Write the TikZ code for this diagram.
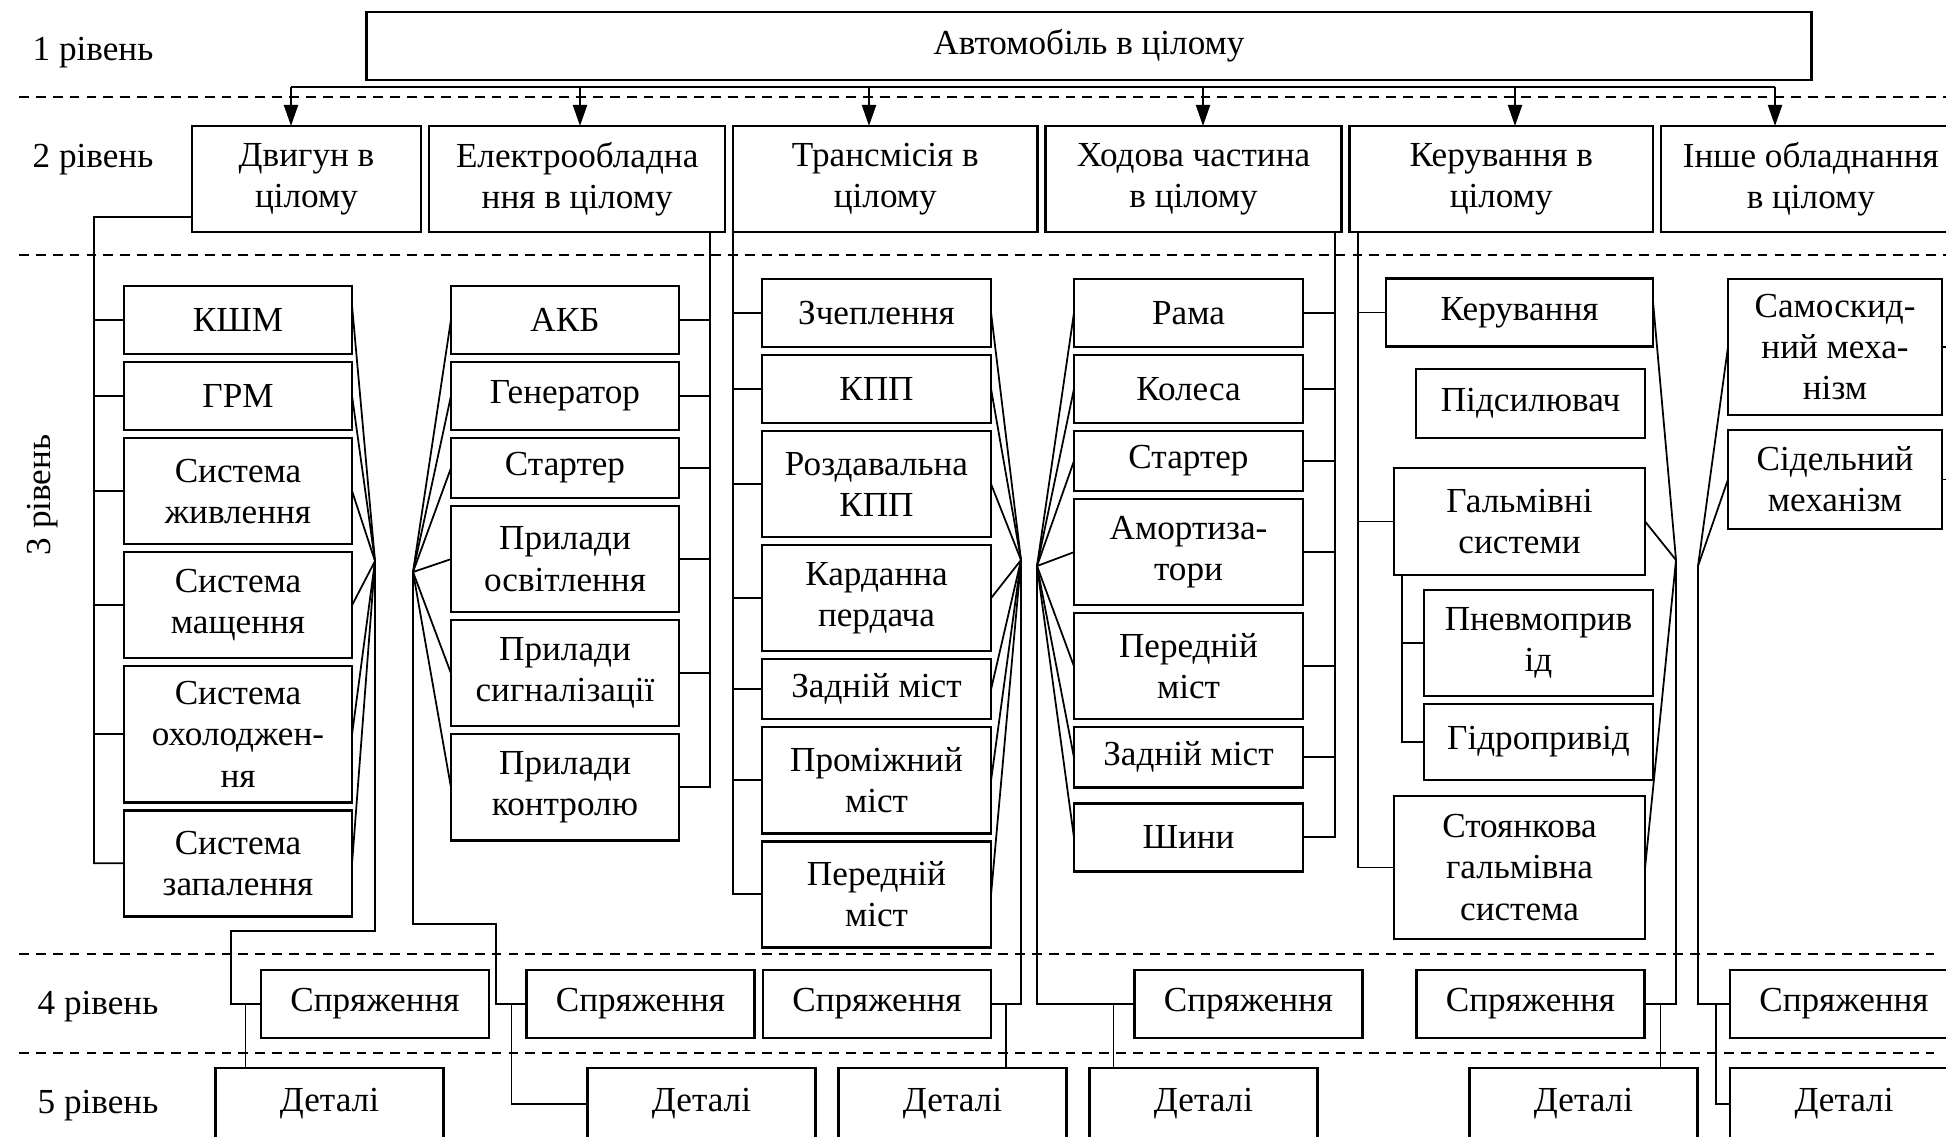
\documentclass[tikz,border=0pt]{standalone}
\usepackage{fontspec}
\setmainfont{Liberation Serif}
\usetikzlibrary{positioning,arrows.meta,calc}

\tikzset{
  blok/.style={draw, line width=0.7pt, align=center, inner sep=0pt, outer sep=0pt},
  k1/.style={blok, minimum width=2.28cm},
  k3/.style={blok, minimum width=2.29cm},
  r0/.style={minimum height=0.6cm},
  r1/.style={minimum height=0.68cm},
  r2/.style={minimum height=1.06cm},
  r3/.style={minimum height=1.36cm},
  zv/.style={line width=0.5pt},
  strilka/.style={line width=0.6pt, -{Triangle[length=6pt,width=4pt]}},
  rozdil/.style={line width=0.5pt, dash pattern=on 2.8pt off 2pt},
  riven/.style={inner sep=0pt}
}

\begin{document}
\begin{tikzpicture}[x=0.01cm, y=-0.01cm, node distance=0.08cm,
  font=\fontsize{10}{11.7}\selectfont]
\useasboundingbox (0,0) rectangle (1946,1136);

% рівні
\node[riven] (l1) at (93,53) {1 рівень};
\node[riven] (l2) at (93,160) {2 рівень};
\node[riven, rotate=90] (l3) at (43,495) {3 рівень};
\node[riven] (l4) at (98,1007) {4 рівень};
\node[riven] (l5) at (98,1106) {5 рівень};
\foreach \y/\xe in {97/1946,255/1946,954/1934,1053/1934}
  \draw[rozdil] (19,\y) -- (\xe,\y);

% 1 і 2 рівні
\node[blok, minimum width=14.44cm, minimum height=0.68cm] (avto) at (1089,46) {Автомобіль в цілому};
\node[blok, r2, minimum width=2.29cm] (dvyg) at (306.5,179) {Двигун в\\цілому};
\node[blok, r2, minimum width=2.96cm, right=of dvyg] (elek) {Електрообладна\\ння в цілому};
\node[blok, r2, minimum width=3.04cm, right=of elek] (trans) {Трансмісія в\\цілому};
\node[blok, r2, minimum width=2.96cm, right=of trans] (khod) {Ходова частина\\в цілому};
\node[blok, r2, minimum width=3.03cm, right=of khod] (keruv) {Керування в\\цілому};
\node[blok, r2, minimum width=3.00cm, right=of keruv] (inshe) {Інше обладнання\\в цілому};

\coordinate (shL) at (291,87);
\coordinate (shR) at (1775,87);
\draw[line width=0.6pt] (shL) -- (shR);
\foreach \n/\x in {dvyg/291,elek/580,trans/869,khod/1203,keruv/1515,inshe/1775}
  \draw[strilka] (\x,87) -- (\x,87 |- \n.north);

% двигун
\node[k1, r1] (kshm) at (238,320) {КШМ};
\node[k1, r1, below=of kshm] (grm) {ГРМ};
\node[k1, r2, below=of grm] (zhyvl) {Система\\живлення};
\node[k1, r2, below=of zhyvl] (mashch) {Система\\мащення};
\node[k1, r3, below=of mashch] (okhol) {Система\\охолоджен-\\ня};
\node[k1, r2, below=of okhol] (zapal) {Система\\запалення};

% електрообладнання
\node[k1, r1] (akb) at (565,320) {АКБ};
\node[k1, r1, below=of akb] (gener) {Генератор};
\node[k1, r0, below=of gener] (start) {Стартер};
\node[k1, r2, below=of start] (osvit) {Прилади\\освітлення};
\node[k1, r2, below=of osvit] (syhn) {Прилади\\сигналізації};
\node[k1, r2, below=of syhn] (kontr) {Прилади\\контролю};

% трансмісія
\node[k3, r1] (zchep) at (876.5,313) {Зчеплення};
\node[k3, r1, below=of zchep] (kpp) {КПП};
\node[k3, r2, below=of kpp] (rozd) {Роздавальна\\КПП};
\node[k3, r2, below=of rozd] (kard) {Карданна\\пердача};
\node[k3, r0, below=of kard] (zadn) {Задній міст};
\node[k3, r2, below=of zadn] (promi) {Проміжний\\міст};
\node[k3, r2, below=of promi] (pered) {Передній\\міст};

% ходова частина
\node[k3, r1] (rama) at (1188.5,313) {Рама};
\node[k3, r1, below=of rama] (koles) {Колеса};
\node[k3, r0, below=of koles] (start4) {Стартер};
\node[k3, r2, below=of start4] (amort) {Амортиза-\\тори};
\node[k3, r2, below=of amort] (pered4) {Передній\\міст};
\node[k3, r0, below=of pered4] (zadn4) {Задній міст};
\node[k3, r1, below=0.16cm of zadn4] (shyny) {Шини};

% керування
\node[blok, r1, minimum width=2.67cm] (kerb) at (1519.5,312.5) {Керування};
\node[blok, minimum height=0.69cm, minimum width=2.29cm] (pids) at (1530.5,403.5) {Підсилювач};
\node[blok, minimum height=1.07cm, minimum width=2.51cm] (galm) at (1519.5,521.5) {Гальмівні\\системи};
\node[k3, r2] (pnev) at (1538.5,643) {Пневмоприв\\ід};
\node[k3, minimum height=0.76cm] (gidr) at (1538.5,742) {Гідропривід};
\node[blok, minimum height=1.43cm, minimum width=2.51cm] (stoi) at (1519.5,867.5) {Стоянкова\\гальмівна\\система};

% інше обладнання
\node[blok, r3, minimum width=2.14cm] (samo) at (1835,347) {Самоскид-\\ний меха-\\нізм};
\node[blok, minimum height=0.99cm, minimum width=2.14cm] (sidl) at (1835,479.5) {Сідельний\\механізм};

% 4 і 5 рівні
\foreach \n/\x in {sp1/375,sp2/640.5,sp3/877,sp4/1248.5,sp5/1530.5,sp6/1844}
  \node[k1, r1] (\n) at (\x,1004) {Спряження};
\foreach \n/\x in {det1/329.5,det2/701.5,det3/952.5,det4/1203.5,det5/1583.5,det6/1844}
  \node[k1, minimum height=0.72cm] (\n) at (\x,1104) {Деталі};

% зв'язки: двигун
\coordinate (b1) at (94,217);
\draw[zv] ($(dvyg.south west)+(0,-15)$) -- (b1) |- (zapal.west);
\foreach \n in {kshm,grm,zhyvl,mashch,okhol}
  \draw[zv] (b1 |- \n.west) -- (\n.west);
\coordinate (f1) at (375,561);
\draw[zv] ($(kshm.east)+(0,-14)$) -- (f1);
\foreach \n in {grm,zhyvl,mashch,okhol,zapal}
  \draw[zv] (\n.east) -- (f1);
\draw[zv] (f1) |- ++(-144,370) |- (sp1.west);
\draw[zv] ($(sp1.west)+(-15.5,0)$) coordinate (t1) -- (t1 |- det1.north);

% зв'язки: електрообладнання
\coordinate (b2) at ($(elek.south east)+(-15,0)$);
\draw[zv] (b2) |- (kontr.east);
\foreach \n in {akb,gener,start,osvit,syhn}
  \draw[zv] (b2 |- \n.east) -- (\n.east);
\coordinate (f2) at (413,572);
\foreach \n in {akb,gener,start,osvit,syhn,kontr}
  \draw[zv] (\n.west) -- (f2);
\draw[zv] (f2) |- ++(83,352) |- (sp2.west);
\draw[zv] ($(sp2.west)+(-15,0)$) |- (det2.west);

% зв'язки: трансмісія
\draw[zv] (trans.south west) |- (pered.west);
\foreach \n in {zchep,kpp,rozd,kard,zadn,promi}
  \draw[zv] (trans.south west |- \n.west) -- (\n.west);
\coordinate (f3) at (1021,560);
\foreach \n in {zchep,kpp,rozd,kard,zadn,promi,pered}
  \draw[zv] (\n.east) -- (f3);
\draw[zv] (f3) |- (sp3.east);
\draw[zv] ($(sp3.east)+(15,0)$) coordinate (t3) -- (t3 |- det3.north);

% зв'язки: ходова частина
\coordinate (b4) at ($(khod.south east)+(-7,0)$);
\draw[zv] (b4) |- (shyny.east);
\foreach \n in {rama,koles,start4,amort,pered4,zadn4}
  \draw[zv] (b4 |- \n.east) -- (\n.east);
\coordinate (f4) at (1037,566);
\foreach \n in {rama,koles,start4,amort,pered4,zadn4,shyny}
  \draw[zv] (\n.west) -- (f4);
\draw[zv] (f4) |- (sp4.west);
\draw[zv] ($(sp4.west)+(-21,0)$) coordinate (t4) -- (t4 |- det4.north);

% зв'язки: керування
\coordinate (b5) at ($(keruv.south west)+(8,0)$);
\draw[zv] (b5) |- (stoi.west);
\foreach \n in {kerb,galm}
  \draw[zv] (b5 |- \n.west) -- (\n.west);
\draw[zv] ($(galm.south west)+(8,0)$) coordinate (b5a) |- (gidr.west);
\draw[zv] (b5a |- pnev.west) -- (pnev.west);
\coordinate (f5) at (1676,560);
\draw[zv] ($(kerb.east)+(0,-10)$) -- (f5);
\foreach \n in {galm,stoi}
  \draw[zv] (\n.east) -- (f5);
\draw[zv] (f5) |- (sp5.east);
\draw[zv] ($(sp5.east)+(16,0)$) coordinate (t5) -- (t5 |- det5.north);

% зв'язки: інше обладнання
\coordinate (f6) at (1698,566);
\foreach \n in {samo,sidl}
  \draw[zv] (\n.west) -- (f6);
\draw[zv] (f6) |- (sp6.west);
\draw[zv] ($(sp6.west)+(-14,0)$) |- (det6.west);
\coordinate (b6) at (1956,232);
\draw[zv] (b6) |- (samo.east);
\draw[zv] (b6) |- (sidl.east);
\end{tikzpicture}
\end{document}
